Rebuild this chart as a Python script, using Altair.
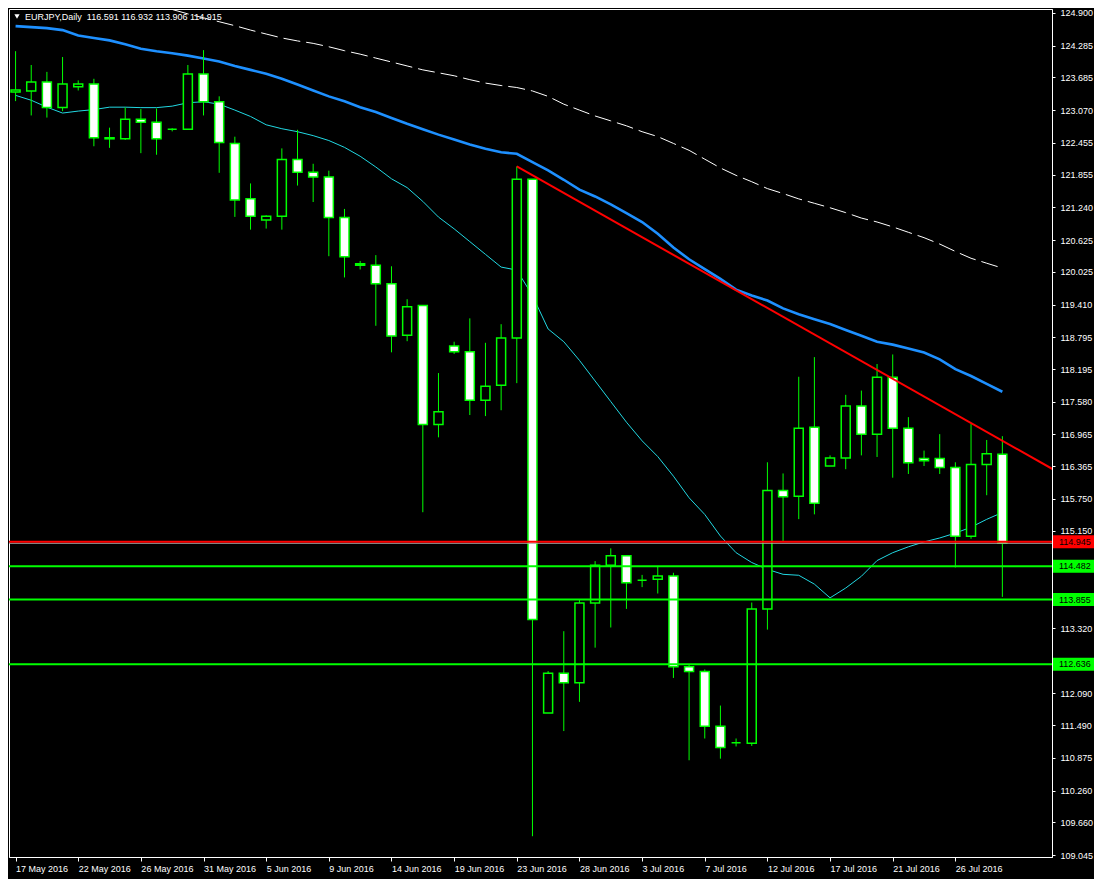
import altair as alt
import pandas as pd

# ---------------- data ----------------
dates = [
    "2016-05-17", "2016-05-18", "2016-05-19", "2016-05-20", "2016-05-22", "2016-05-23", "2016-05-24", "2016-05-25",
    "2016-05-26", "2016-05-27", "2016-05-29", "2016-05-30", "2016-05-31", "2016-06-01", "2016-06-02", "2016-06-03",
    "2016-06-05", "2016-06-06", "2016-06-07", "2016-06-08", "2016-06-09", "2016-06-10", "2016-06-12", "2016-06-13",
    "2016-06-14", "2016-06-15", "2016-06-16", "2016-06-17", "2016-06-19", "2016-06-20", "2016-06-21", "2016-06-22",
    "2016-06-23", "2016-06-24", "2016-06-26", "2016-06-27", "2016-06-28", "2016-06-29", "2016-06-30", "2016-07-01",
    "2016-07-03", "2016-07-04", "2016-07-05", "2016-07-06", "2016-07-07", "2016-07-08", "2016-07-10", "2016-07-11",
    "2016-07-12", "2016-07-13", "2016-07-14", "2016-07-15", "2016-07-17", "2016-07-18", "2016-07-19", "2016-07-20",
    "2016-07-21", "2016-07-22", "2016-07-24", "2016-07-25", "2016-07-26", "2016-07-27", "2016-07-28", "2016-07-29",
]

opens = [
    123.41, 123.43, 123.60, 123.12, 123.51, 123.56, 122.55, 122.53, 122.90, 122.84, 122.71, 122.71, 123.75, 123.23, 122.44, 121.40,
    121.00, 121.07, 122.14, 121.90, 121.81, 121.05, 120.18, 120.15, 119.80, 118.83, 119.39, 117.15, 118.63, 118.52, 117.61, 117.89,
    118.78, 121.77, 111.72, 112.47, 112.29, 113.79, 114.50, 114.68, 114.22, 114.24, 114.30, 112.59, 112.50, 111.47, 111.16, 111.15,
    113.68, 115.91, 115.80, 117.10, 116.37, 116.52, 117.50, 116.97, 118.04, 117.08, 116.51, 116.51, 116.34, 115.05, 116.40, 116.591,
]
highs = [
    124.18, 123.92, 123.79, 124.07, 123.63, 123.66, 122.74, 123.12, 123.09, 123.10, 122.73, 123.92, 124.20, 123.33, 122.57, 121.69,
    121.09, 122.35, 122.70, 122.06, 121.93, 121.21, 120.23, 120.34, 120.13, 119.51, 119.39, 118.12, 118.71, 119.15, 118.69, 119.04,
    122.01, 121.77, 112.51, 113.26, 113.86, 114.58, 114.82, 114.68, 114.32, 114.49, 114.36, 112.63, 112.54, 111.86, 111.24, 113.80,
    116.44, 116.23, 118.05, 118.42, 116.57, 117.71, 117.79, 118.29, 118.47, 117.29, 116.66, 116.97, 116.44, 117.16, 116.86, 116.932,
]
lows = [
    123.24, 122.97, 122.93, 123.05, 123.44, 122.39, 122.36, 122.51, 122.26, 122.23, 122.67, 122.71, 122.97, 121.89, 121.06, 120.82,
    120.84, 120.82, 121.65, 121.34, 120.32, 119.92, 120.07, 119.01, 118.51, 118.72, 115.50, 116.91, 118.48, 117.33, 117.31, 117.42,
    117.93, 109.40, 111.72, 111.38, 111.93, 112.95, 113.33, 113.68, 114.09, 113.97, 112.38, 110.83, 111.24, 110.86, 111.09, 111.10,
    113.29, 114.94, 115.37, 115.46, 116.37, 116.31, 116.57, 116.54, 116.15, 116.22, 116.37, 116.22, 114.46, 115.00, 115.82, 113.906,
]
closes = [
    123.45, 123.60, 123.12, 123.56, 123.56, 122.55, 122.53, 122.90, 122.84, 122.53, 122.71, 123.75, 123.23, 122.46, 121.38, 121.07,
    121.07, 122.14, 121.90, 121.81, 121.05, 120.31, 120.15, 119.80, 118.82, 119.37, 117.15, 117.39, 118.52, 117.61, 117.87, 118.78,
    121.77, 113.48, 112.47, 112.29, 113.79, 114.50, 114.68, 114.17, 114.22, 114.30, 112.59, 112.50, 111.47, 111.07, 111.16, 113.68,
    115.91, 115.79, 117.08, 115.67, 116.52, 117.50, 116.97, 118.04, 117.08, 116.43, 116.47, 116.34, 115.05, 116.40, 116.60, 114.915,
]

# moving averages (cyan thin, blue thick, white dashed from bar 10 on)
ma_fast = [
    123.348, 123.256, 123.126, 123.015, 123.052, 123.080, 123.126, 123.126, 123.117, 123.117, 123.145, 123.209, 123.228, 123.182,
    123.071, 122.951, 122.794, 122.720, 122.664, 122.590, 122.498, 122.369, 122.202, 121.999, 121.777, 121.611, 121.352, 121.057,
    120.835, 120.595, 120.355, 120.115, 120.059, 119.579, 118.950, 118.710, 118.359, 117.971, 117.583, 117.195, 116.844, 116.548,
    116.179, 115.772, 115.458, 115.052, 114.738, 114.553, 114.424, 114.331, 114.313, 114.146, 113.888, 114.073, 114.294, 114.590,
    114.738, 114.849, 114.941, 115.015, 115.107, 115.218, 115.366, 115.495,
]
ma_mid = [
    124.651, 124.632, 124.614, 124.577, 124.475, 124.429, 124.383, 124.309, 124.226, 124.179, 124.142, 124.096, 124.041, 123.985,
    123.902, 123.828, 123.754, 123.662, 123.551, 123.440, 123.329, 123.237, 123.126, 123.034, 122.923, 122.812, 122.710, 122.609,
    122.516, 122.424, 122.341, 122.276, 122.249, 122.092, 121.934, 121.759, 121.574, 121.445, 121.297, 121.131, 120.964, 120.743,
    120.484, 120.262, 120.078, 119.893, 119.690, 119.579, 119.486, 119.338, 119.228, 119.135, 119.043, 118.932, 118.821, 118.710,
    118.655, 118.581, 118.507, 118.378, 118.193, 118.064, 117.916, 117.768,
]
ma_slow_start = 10
ma_slow = [
    124.965, 124.882, 124.808, 124.734, 124.660, 124.577, 124.503, 124.429, 124.373, 124.327, 124.263, 124.189, 124.124, 124.050,
    123.976, 123.902, 123.828, 123.773, 123.717, 123.644, 123.579, 123.533, 123.496, 123.431, 123.329, 123.182, 123.071, 122.960,
    122.868, 122.775, 122.664, 122.572, 122.443, 122.313, 122.147, 121.981, 121.842, 121.722, 121.593, 121.500, 121.399, 121.316,
    121.232, 121.140, 121.038, 120.964, 120.872, 120.770, 120.669, 120.549, 120.410, 120.281, 120.188, 120.096,
]

# drawn objects
trend_bars = [32, 70]
trend_prices = [122.01, 115.68]
level_prices = [114.945, 114.482, 113.855, 112.636]
level_roles = ["broken", "support", "support", "support"]

# axis ticks (labels hidden behind the level boxes are left out)
price_ticks = [124.900, 124.285, 123.685, 123.070, 122.455, 121.855, 121.240, 120.625, 120.025, 119.410, 118.795,
               118.195, 117.580, 116.965, 116.365, 115.750, 115.150, 113.320, 112.090,
               111.490, 110.875, 110.260, 109.660, 109.045]
date_tick_bars = [0, 4, 8, 12, 16, 20, 24, 28, 32, 36, 40, 44, 48, 52, 56, 60]

title_text = "EURJPY,Daily\u00a0\u00a0116.591 116.932 113.906 114.915"

# ---------------- tables ----------------
n = len(dates)
bars = pd.DataFrame({
    "i": list(range(n)), "date": dates, "open": opens, "high": highs, "low": lows, "close": closes,
})
bars["dir"] = ["bear" if c < o else "bull" for o, c in zip(opens, closes)]

ma_df = pd.DataFrame({"i": list(range(n)), "fast": ma_fast, "mid": ma_mid})
slow_df = pd.DataFrame({"i": list(range(ma_slow_start, ma_slow_start + len(ma_slow))), "slow": ma_slow})
trend_df = pd.DataFrame({"i": trend_bars, "price": trend_prices})
levels_df = pd.DataFrame({"level": level_prices, "role": level_roles,
                          "label": [f"{v:.3f}" for v in level_prices]})
bid_df = pd.DataFrame({"level": [closes[-1]]})

tick_labels = [pd.Timestamp(dates[k]).strftime("%d %b %Y").lstrip("0") for k in date_tick_bars]
label_expr = "[" + ",".join(f"'{t}'" for t in tick_labels) + "][round(datum.value/4)]"

# ---------------- layout ----------------
W, H = 1043, 848
FONT = "Liberation Sans"
FS = 9

xs = alt.Scale(domain=[-0.1, 65.85], nice=False, zero=False)
ys = alt.Scale(domain=[109.009, 124.974], nice=False, zero=False)

xaxis = alt.Axis(values=date_tick_bars, labelExpr=label_expr, labelAlign="left", labelBaseline="top",
                 labelPadding=3, tickSize=4, tickColor="white", domainColor="white",
                 labelColor="white", labelFont=FONT, labelFontSize=FS, grid=False, title=None,
                 labelFlush=False, labelOverlap=False)
yaxis = alt.Axis(orient="right", values=price_ticks, format=".3f", labelPadding=5, tickSize=3,
                 tickColor="white", domainColor="white", labelColor="white", labelFont=FONT,
                 labelFontSize=FS, labelBaseline="middle", grid=False, title=None,
                 labelFlush=False, labelOverlap=False)

X = alt.X("i:Q", scale=xs, axis=xaxis, title=None)


def Y(field):
    return alt.Y(f"{field}:Q", scale=ys, axis=yaxis, title=None)


ma_fast_line = alt.Chart(ma_df).mark_line(color="#22D8E2", strokeWidth=1, clip=True).encode(x=X, y=Y("fast"))
ma_mid_line = alt.Chart(ma_df).mark_line(color="#1E90FF", strokeWidth=2.6, clip=True).encode(x=X, y=Y("mid"))
ma_slow_line = alt.Chart(slow_df).mark_line(color="white", strokeWidth=1, strokeDash=[17, 6],
                                            clip=True).encode(x=X, y=Y("slow"))

wicks = alt.Chart(bars).mark_rule(color="#00FF00", strokeWidth=1, clip=True).encode(
    x=X, y=Y("low"), y2="high:Q")
bodies = alt.Chart(bars).mark_bar(size=9, stroke="#00FF00", strokeWidth=1.5, clip=True).encode(
    x=X, y=Y("open"), y2="close:Q",
    fill=alt.Fill("dir:N", scale=alt.Scale(domain=["bull", "bear"], range=["#000000", "#FFFFFF"]), legend=None))

bid_line = alt.Chart(bid_df).mark_rule(color="#A8A8A8", strokeWidth=1).encode(y=Y("level"))

role_scale = alt.Scale(domain=["broken", "support"], range=["#FF0000", "#00FF00"])
level_lines = alt.Chart(levels_df).mark_rule(strokeWidth=2).encode(
    y=Y("level"), stroke=alt.Stroke("role:N", scale=role_scale, legend=None))
trend_line = alt.Chart(trend_df).mark_line(color="#FF0000", strokeWidth=2, clip=True).encode(x=X, y=Y("price"))

level_boxes = alt.Chart(levels_df).mark_rule(strokeWidth=13, strokeCap="butt").encode(
    x=alt.value(W + 1), x2=alt.value(W + 44), y=Y("level"),
    stroke=alt.Stroke("role:N", scale=role_scale, legend=None))
level_text = alt.Chart(levels_df).mark_text(align="left", baseline="middle", fill="#000000",
                                            font=FONT, fontSize=FS).encode(
    x=alt.value(W + 7), y=Y("level"), text="label:N")

title_df = pd.DataFrame({"t": [title_text]})
title_mark = alt.Chart(title_df).mark_text(align="left", baseline="middle", fill="#FFFFFF",
                                           font=FONT, fontSize=FS).encode(
    x=alt.value(16), y=alt.value(8), text="t:N")
title_tri = alt.Chart(title_df).mark_point(shape="triangle-down", filled=True, size=28, fill="#FFFFFF",
                                           strokeWidth=0, opacity=1).encode(x=alt.value(8), y=alt.value(7.5))

chart = alt.layer(
    ma_fast_line, ma_mid_line, ma_slow_line, wicks, bodies, bid_line, level_lines, trend_line,
    level_boxes, level_text, title_mark, title_tri,
).resolve_scale(
    fill="independent", stroke="independent"
).properties(
    width=W, height=H,
    padding={"left": 1, "top": 1, "right": 42, "bottom": 22},
    autosize=alt.AutoSizeParams(type="none"),
    background="#000000",
).configure_view(stroke="white", strokeWidth=1)

chart.save("out.html", embed_options={"renderer": "svg", "actions": False})
